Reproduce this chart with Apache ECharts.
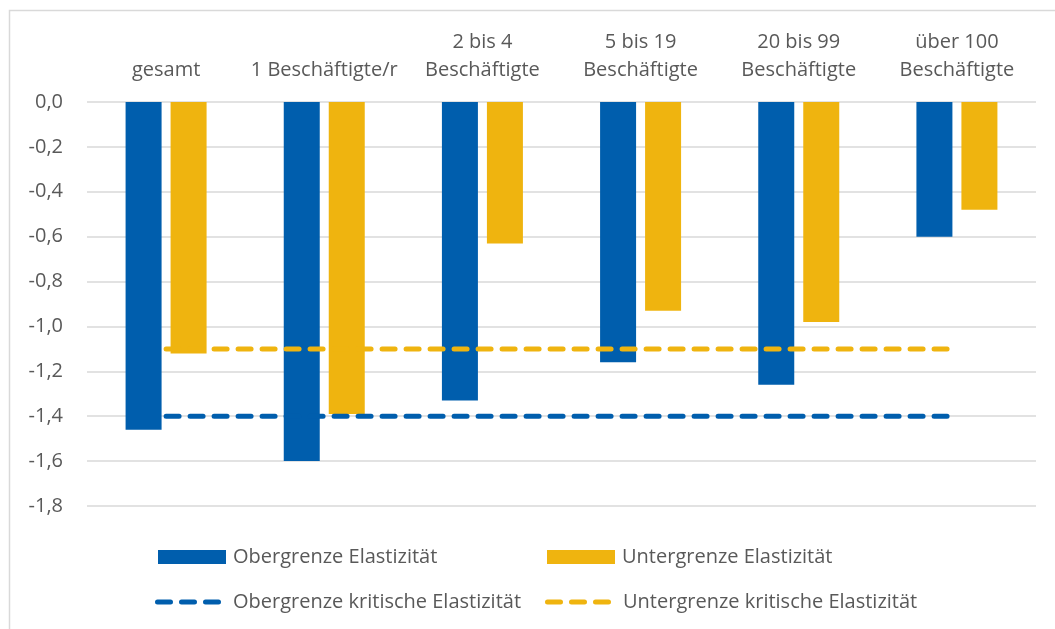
<!DOCTYPE html>
<html>
<head>
<meta charset="utf-8">
<script src="https://cdn.jsdelivr.net/npm/echarts@6/dist/echarts.min.js"></script>
<style>
  html, body { margin: 0; padding: 0; background: #fff; }
  #chart { width: 1055px; height: 629px; }
</style>
</head>
<body>
<div id="chart"></div>
<script>
// Betriebsgrößenklassen
const categories = [
  'gesamt',
  '1 Beschäftigte/r',
  '2 bis 4\nBeschäftigte',
  '5 bis 19\nBeschäftigte',
  '20 bis 99\nBeschäftigte',
  'über 100\nBeschäftigte'
];

// Elastizitäten je Größenklasse
const obergrenze = [-1.46, -1.60, -1.33, -1.16, -1.26, -0.60];
const untergrenze = [-1.12, -1.39, -0.63, -0.93, -0.98, -0.48];

// Kritische Elastizitäten (für alle Klassen gleich)
const obergrenzeKritisch = [-1.4, -1.4, -1.4, -1.4, -1.4, -1.4];
const untergrenzeKritisch = [-1.1, -1.1, -1.1, -1.1, -1.1, -1.1];

// Werteachse
const yMin = -1.8;
const yMax = 0;
const yStep = 0.2;

const seriesNames = [
  'Obergrenze Elastizität',
  'Untergrenze Elastizität',
  'Obergrenze kritische Elastizität',
  'Untergrenze kritische Elastizität'
];

const BLUE = '#005EAD';
const YELLOW = '#EFB40F';
const TEXT = '#595959';
const GRID = '#D9D9D9';
const FONT = '"Open Sans", "Noto Sans", sans-serif';
const FS = 20;

const fmt = v => {
  const r = Math.round(v * 10) / 10;
  return (r === 0 ? 0 : r).toFixed(1).replace('.', ',');
};

// three rounded dashes used as the legend key of the dashed lines
const DASH_ICON = 'path://M2.5,0H15.5A2.5,2.5 0 0 1 15.5,5H2.5A2.5,2.5 0 0 1 2.5,0Z' +
  'M26.5,0H39.5A2.5,2.5 0 0 1 39.5,5H26.5A2.5,2.5 0 0 1 26.5,0Z' +
  'M50.5,0H63.5A2.5,2.5 0 0 1 63.5,5H50.5A2.5,2.5 0 0 1 50.5,0Z';

function barLegend(name, left) {
  return {
    left: left,
    top: 542,
    itemWidth: 68,
    itemHeight: 14,
    icon: 'rect',
    selectedMode: false,
    data: [name],
    textStyle: { color: TEXT, fontFamily: FONT, fontSize: FS, lineHeight: 20, padding: [0, 0, 0, 2] }
  };
}

function lineLegend(name, left, color) {
  return {
    left: left,
    top: 587,
    itemWidth: 66,
    itemHeight: 5,
    selectedMode: false,
    data: [{ name: name, icon: DASH_ICON, itemStyle: { color: color } }],
    textStyle: { color: TEXT, fontFamily: FONT, fontSize: FS, lineHeight: 20, padding: [0, 0, 0, 7] }
  };
}

const chart = echarts.init(document.getElementById('chart'), null, { renderer: 'canvas' });

chart.setOption({
  animation: false,
  backgroundColor: '#ffffff',
  graphic: [{
    type: 'rect',
    shape: { x: 9.5, y: 10.5, width: 1100, height: 700 },
    style: { fill: 'none', stroke: GRID, lineWidth: 1.5 },
    silent: true,
    z: -10
  }],
  grid: { left: 87, right: 19, top: 102, bottom: 123, containLabel: false },
  legend: [
    barLegend(seriesNames[0], 153),
    barLegend(seriesNames[1], 542),
    lineLegend(seriesNames[2], 150, BLUE),
    lineLegend(seriesNames[3], 540, YELLOW)
  ],
  xAxis: {
    type: 'category',
    position: 'top',
    data: categories,
    axisLine: { show: false },
    axisTick: { show: false },
    axisLabel: {
      color: TEXT,
      fontFamily: FONT,
      fontSize: FS,
      lineHeight: 28,
      margin: 18,
      interval: 0
    }
  },
  yAxis: {
    type: 'value',
    min: yMin,
    max: yMax,
    interval: yStep,
    axisLine: { show: false },
    axisTick: { show: false },
    splitLine: { lineStyle: { color: GRID, width: 1.5 } },
    axisLabel: {
      color: TEXT,
      fontFamily: FONT,
      fontSize: FS,
      margin: 24,
      formatter: fmt
    }
  },
  series: [
    {
      name: seriesNames[0],
      type: 'bar',
      data: obergrenze,
      barWidth: 36,
      barGap: '25%',
      itemStyle: { color: BLUE }
    },
    {
      name: seriesNames[1],
      type: 'bar',
      data: untergrenze,
      barWidth: 36,
      barGap: '25%',
      itemStyle: { color: YELLOW }
    },
    {
      name: seriesNames[2],
      type: 'line',
      data: obergrenzeKritisch,
      symbol: 'none',
      z: 5,
      lineStyle: { color: BLUE, width: 5, type: [13, 11], cap: 'round' },
      itemStyle: { color: BLUE }
    },
    {
      name: seriesNames[3],
      type: 'line',
      data: untergrenzeKritisch,
      symbol: 'none',
      z: 5,
      lineStyle: { color: YELLOW, width: 5, type: [13, 11], cap: 'round' },
      itemStyle: { color: YELLOW }
    }
  ]
});
</script>
</body>
</html>
